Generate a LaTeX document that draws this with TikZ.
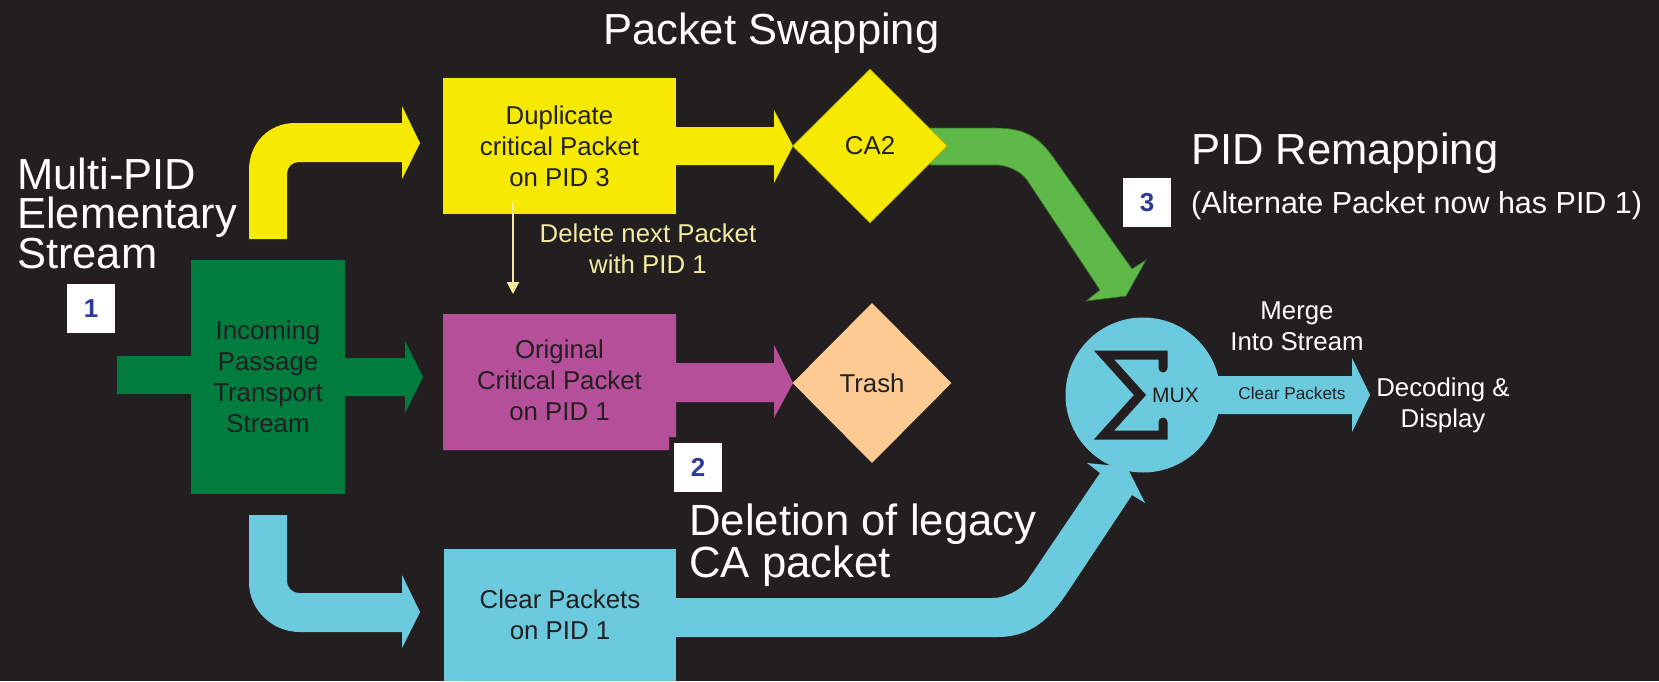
\documentclass[tikz,border=0pt]{standalone}
\usepackage{fontspec}
\setmainfont{Liberation Sans}
\usetikzlibrary{shapes.geometric,arrows.meta}
\definecolor{bg}{RGB}{35,31,32}
\definecolor{yel}{RGB}{245,234,0}
\definecolor{dgreen}{RGB}{0,124,62}
\definecolor{purp}{RGB}{182,79,153}
\definecolor{peach}{RGB}{253,202,148}
\definecolor{lgreen}{RGB}{94,185,72}
\definecolor{cyanc}{RGB}{107,202,221}
\definecolor{numblue}{RGB}{46,60,150}
\definecolor{lyel}{RGB}{243,235,160}
\definecolor{ink}{RGB}{35,31,32}
\begin{document}
\begin{tikzpicture}[x=1pt,y=-1pt,
  boxsty/.style={rectangle, inner sep=0pt, text=ink, align=center,
    font=\fontsize{25.8}{31}\selectfont},
  dsty/.style={diamond, inner sep=0pt, text=ink,
    font=\fontsize{25.8}{31}\selectfont},
  numbox/.style={rectangle, fill=white, inner sep=0pt, minimum width=48pt,
    minimum height=49pt, text=numblue, font=\fontsize{26}{30}\selectfont\bfseries},
  bigtext/.style={text=white, inner sep=0pt, align=left,
    font=\fontsize{43.5}{39.5}\selectfont},
  midtext/.style={text=white, inner sep=0pt, align=center,
    font=\fontsize{25.8}{31}\selectfont}]
\useasboundingbox (0,0) rectangle (1659,681);
\fill[bg] (0,0) rectangle (1659,681);

% ---------- titles (multi-line nodes: base = last line) ----------
\node[bigtext, anchor=base west] (tswap) at (603,44) {Packet Swapping};
\node[bigtext, anchor=base west] (tmulti) at (17,268) {Multi-PID\\Elementary\\Stream};
\node[bigtext, anchor=base west] (tremap) at (1191,164) {PID Remapping};
\node[text=white, inner sep=0pt, anchor=base west,
  font=\fontsize{30.5}{36}\selectfont] (talt) at (1191,213) {(Alternate Packet now has PID 1)};
\node[bigtext, anchor=base west, font=\fontsize{43.7}{39}\selectfont] (tdel) at (689,577) {Deletion of legacy\\CA packet};

% ---------- block arrows (drawn below nodes) ----------
% green input stub
\fill[dgreen] (117,356) rectangle (191,394);
% green output arrow
\fill[dgreen] (345,358) -- (405,358) -- (405,341) -- (423,377) -- (405,413) -- (405,396) -- (345,396) -- cycle;
% yellow bent arrow
\fill[yel] (249,239) -- (249,170) .. controls (249,143) and (269,123) .. (295,123) -- (402,123)
  -- (402,106) -- (420,143) -- (402,179) -- (402,162) -- (299,162)
  .. controls (292,162) and (287,167) .. (287,174) -- (287,239) -- cycle;
% cyan bent arrow
\fill[cyanc] (249,515) -- (249,582) .. controls (249,610) and (272,632) .. (300,632) -- (402,632)
  -- (402,648) -- (420,612) -- (402,575) -- (402,593) -- (300,593)
  .. controls (292,593) and (287,588) .. (287,580) -- (287,515) -- cycle;
% yellow arrow to CA2
\fill[yel] (670,127) -- (774,127) -- (774,110) -- (793,146) -- (774,183) -- (774,165) -- (670,165) -- cycle;
% purple arrow to Trash
\fill[purp] (670,363) -- (774,363) -- (774,345) -- (793,383) -- (774,418) -- (774,402) -- (670,402) -- cycle;
% green curved arrow CA2 -> MUX
\filldraw[lgreen, draw=lgreen!60!black, line width=0.6pt] (930,128) -- (993,128)
  .. controls (1020,128) and (1036,133) .. (1053,157) -- (1132,269) -- (1146,260) -- (1126,296)
  -- (1086,301) -- (1100,290) -- (1027,180) .. controls (1020,170) and (1005,165) .. (997,165)
  -- (930,165) -- cycle;
% cyan curved arrow Clear -> MUX
\fill[cyanc] (670,598) -- (993,598) .. controls (1005,598) and (1021,590) .. (1027,581)
  -- (1100,473) -- (1087,463) -- (1127,467) -- (1145,503) -- (1132,495) -- (1067,593)
  .. controls (1050,618) and (1032,637) .. (997,637) -- (670,637) -- cycle;
% cyan output arrow
\fill[cyanc] (1210,376) -- (1352,376) -- (1352,358) -- (1370,395) -- (1352,432) -- (1352,414) -- (1210,414) -- cycle;

% ---------- boxes ----------
\node[boxsty, fill=dgreen, minimum width=154pt, minimum height=234pt] (ipts) at (268,377)
  {Incoming\\Passage\\Transport\\Stream};
\node[boxsty, fill=yel, minimum width=233pt, minimum height=136pt] (dup) at (559.5,146)
  {Duplicate\\critical Packet\\on PID 3};
\fill[purp] (443,314) -- (676,314) -- (676,437) -- (669,437) -- (669,450) -- (443,450) -- cycle;
\node[boxsty, minimum width=233pt, minimum height=136pt] (orig) at (559.5,380.5)
  {Original\\Critical Packet\\on PID 1};
\node[boxsty, fill=cyanc, minimum width=232pt, minimum height=132pt] (clear) at (560,615)
  {Clear Packets\\on PID 1};
\node[dsty, fill=yel, draw=yel!70!black, line width=0.6pt, minimum width=155pt, minimum height=154pt] (ca2) at (870,146) {CA2};
\node[dsty, fill=peach, minimum width=159pt, minimum height=160pt] (trash) at (872,383) {Trash};
\node[circle, fill=cyanc, minimum size=155pt, inner sep=0pt] (mux) at (1143,395) {};

% sigma and MUX label
\draw[ink, line width=9pt, line cap=round, line join=miter]
  (1163,368) -- (1163,355) -- (1104,355) -- (1140,395) -- (1104,435) -- (1163,435) -- (1163,422);
\node[text=ink, inner sep=0pt, anchor=base west, font=\fontsize{21}{25}\selectfont] (muxlbl) at (1152,402) {MUX};

% thin arrow
\coordinate (thinA) at (513,202);
\coordinate (thinB) at (513,294);
\draw[lyel, line width=2pt, -{Triangle[length=12pt,width=12pt]}] (thinA) -- (thinB);
\node[midtext, text=lyel, anchor=base] (tdelete) at (648,273) {Delete next Packet\\with PID 1};

% right side texts
\node[midtext, anchor=base] (tmerge) at (1297,350) {Merge\\Into Stream};
\node[text=ink, inner sep=0pt, anchor=base, font=\fontsize{17.2}{20}\selectfont] (tclr) at (1292,399) {Clear Packets};
\node[midtext, anchor=base] (tdec) at (1443,427) {Decoding \&\\Display};

% number boxes
\node[numbox] (n1) at (91,308.5) {1};
\node[numbox] (n2) at (698,467) {2};
\node[numbox] (n3) at (1147,202.5) {3};
\end{tikzpicture}
\end{document}
